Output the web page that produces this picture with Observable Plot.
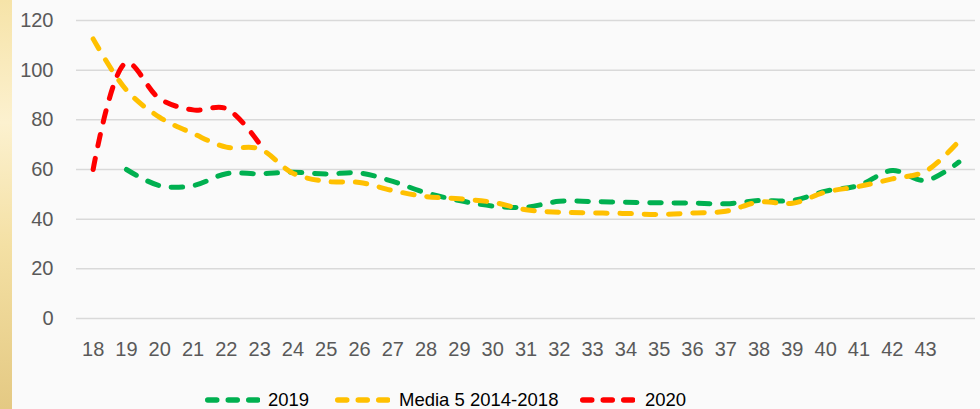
<!DOCTYPE html>
<html><head><meta charset="utf-8">
<script src="https://cdn.jsdelivr.net/npm/d3@7"></script>
<script src="https://cdn.jsdelivr.net/npm/@observablehq/plot@0.6"></script>
<style>
html,body{margin:0;padding:0;background:#fafafa;width:980px;height:409px;overflow:hidden;position:relative;}
#strip{position:absolute;left:0;top:0;width:12px;height:409px;background:linear-gradient(180deg,#f6e3a8 0%,#fcf1cf 30%,#f4e0a4 60%,#e4c983 100%);}
#chart{position:absolute;left:0;top:0;}
#legend{position:absolute;top:390px;left:0;width:980px;height:20px;font-family:"Liberation Sans",sans-serif;font-size:18.5px;color:#000;}
.sw{position:absolute;top:5px;}
.lt{position:absolute;top:0;line-height:20px;white-space:nowrap;}
</style>
</head><body>
<div id="strip"></div>
<div id="chart"></div>
<div id="legend"></div>
<script>
const weeks = [18,19,20,21,22,23,24,25,26,27,28,29,30,31,32,33,34,35,36,37,38,39,40,41,42,43,44];
const weekLabels = ["18","19","20","21","22","23","24","25","26","27","28","29","30","31","32","33","34","35","36","37","38","39","40","41","42","43",""];
const v2019 = [null,60,53.5,53.5,58.3,58.3,58.9,58.2,58.6,55.2,50.6,47.5,45.3,44.8,47.2,47.1,46.8,46.6,46.5,46.2,47.5,47.5,51.3,53.6,59.6,55.6,63];
const vMedia = [112.6,92,81,74.5,69,68.3,58.5,55.2,54.8,51.5,49.1,48.2,46.8,43.8,42.8,42.5,42.3,41.9,42.5,43.2,46.9,46.4,50.9,53.2,56.2,59.3,71.4];
const v2020 = [60,103,88.5,84,84.5,70.3,null,null,null,null,null,null,null,null,null,null,null,null,null,null,null,null,null,null,null,null,null];
const seriesNames = ["2019","Media 5 2014-2018","2020"];
const seriesColors = ["#00b050","#ffc000","#ff0000"];
const yTicks = [0,20,40,60,80,100,120];

const seriesVals = [v2019, vMedia, v2020];
const rows = [];
seriesVals.forEach((vals, si) => vals.forEach((v, i) => {
  if (v != null) rows.push({week: weeks[i], value: v, series: seriesNames[si]});
}));

const chart = Plot.plot({
  width: 980, height: 380,
  marginLeft: 76, marginRight: 5, marginTop: 20, marginBottom: 62,
  style: {background: "transparent", fontFamily: "Liberation Sans, sans-serif", fontSize: "20px", color: "#595959"},
  x: {type: "point", domain: weeks, padding: 0.5, round: false, label: null},
  y: {domain: [0, 120], label: null},
  marks: [
    Plot.ruleY(yTicks, {stroke: "#d9d9d9", strokeWidth: 1.5}),
    Plot.axisY(yTicks, {tickSize: 0, tickPadding: 23, label: null, fill: "#595959", fontSize: 20}),
    Plot.axisX(weeks, {tickSize: 0, tickPadding: 23, label: null, fill: "#595959", fontSize: 20,
      tickFormat: d => weekLabels[weeks.indexOf(d)]}),
    ...seriesNames.map((name, si) => Plot.line(rows.filter(r => r.series === name), {
      x: "week", y: "value", stroke: seriesColors[si], strokeWidth: 5,
      strokeDasharray: "11.5,12.8", strokeLinecap: "round", curve: "catmull-rom"
    }))
  ]
});
document.getElementById("chart").appendChild(chart);

// legend
const legendPos = [{sw: 205, tx: 268}, {sw: 335, tx: 399}, {sw: 580, tx: 645}];
const lg = document.getElementById("legend");
seriesNames.forEach((name, i) => {
  const p = legendPos[i];
  const ns = "http://www.w3.org/2000/svg";
  const s = document.createElementNS(ns, "svg");
  s.setAttribute("class", "sw");
  s.setAttribute("width", 58); s.setAttribute("height", 10);
  s.style.left = (p.sw - 3) + "px";
  const l = document.createElementNS(ns, "line");
  l.setAttribute("x1", 3); l.setAttribute("x2", 57);
  l.setAttribute("y1", 5); l.setAttribute("y2", 5);
  l.setAttribute("stroke", seriesColors[i]);
  l.setAttribute("stroke-width", 5.5);
  l.setAttribute("stroke-linecap", "round");
  l.setAttribute("stroke-dasharray", "9,11.5");
  l.setAttribute("transform", "translate(2.75,0)");
  s.appendChild(l);
  lg.appendChild(s);
  const t = document.createElement("div");
  t.className = "lt";
  t.style.left = p.tx + "px";
  t.textContent = name;
  lg.appendChild(t);
});
</script>
</body></html>
